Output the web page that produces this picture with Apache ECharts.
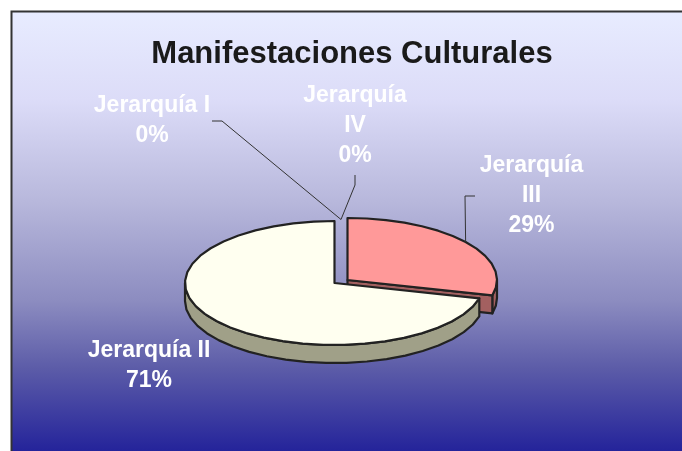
<!DOCTYPE html>
<html><head><meta charset="utf-8">
<style>html,body{margin:0;padding:0;background:#fff}#c{width:682px;height:451px}</style>
<script src="https://cdn.jsdelivr.net/npm/echarts@6/dist/echarts.min.js"></script>
</head><body><div id="c"></div>
<script>
// Clockwise from 12 o'clock, as the slices appear in the picture
const categories = ['Jerarquía IV', 'Jerarquía III', 'Jerarquía II', 'Jerarquía I'];
const values = [0, 29, 71, 0];
const titleText = 'Manifestaciones Culturales';

const FONT = '"Liberation Sans", Arial, sans-serif';
const pie = { cx: 334.5, cy: 283, rx: 149.5, ry: 62, depth: 18 };
const sliceStyle = {
  'Jerarquía III': { top: '#ff9999', side: '#a36060', ex: 13, ey: -3, order: 1 },
  'Jerarquía II': { top: '#fffff0', side: '#a0a088', ex: 0, ey: 0, order: 2 },
  'Jerarquía I': { top: 'none', side: 'none', ex: 6.5, ey: -1.5, order: 3 },
  'Jerarquía IV': { top: 'none', side: 'none', ex: 6.5, ey: -1.5, order: 3 }
};
const labelLayout = {
  'Jerarquía I': { x: 152, y: 121, wrap: false, leader: [[212, 121], [222, 121]] },
  'Jerarquía IV': { x: 355, y: 126, wrap: true, leader: [[355, 175], [355, 185]] },
  'Jerarquía III': { x: 531.5, y: 196, wrap: true, leader: [[475, 196], [465, 196]] },
  'Jerarquía II': { x: 149, y: 366, wrap: false, leader: [] }
};
const total = values.reduce((a, b) => a + b, 0);
const starts = values.map((_, i) => values.slice(0, i).reduce((a, b) => a + b, 0));
const EDGE = '#222222';

function pt(cx, cy, deg) {
  const t = deg * Math.PI / 180;
  return [cx + pie.rx * Math.sin(t), cy - pie.ry * Math.cos(t)];
}
function arc(cx, cy, a0, a1) {
  const out = [];
  const n = Math.max(1, Math.ceil((a1 - a0) / 8));
  for (let i = 0; i <= n; i++) out.push(pt(cx, cy, a0 + (a1 - a0) * i / n));
  return out;
}
function renderItem(params, api) {
  const name = categories[params.dataIndex];
  const value = api.value(0), start = api.value(1);
  const s = sliceStyle[name], l = labelLayout[name];
  const a0 = start / total * 360, a1 = (start + value) / total * 360;
  const cx = pie.cx + s.ex, cy = pie.cy + s.ey;
  const children = [];
  const base = s.order * 10;
  const stroke = { stroke: EDGE, lineWidth: 2.2, lineJoin: 'round' };
  if (value > 0) {
    // front wall of the rim
    const w0 = Math.max(a0, 90), w1 = Math.min(a1, 270);
    if (w1 > w0) {
      const top = arc(cx, cy, w0, w1);
      const bottom = arc(cx, cy + pie.depth, w0, w1).reverse();
      children.push({ type: 'polygon', z2: base, shape: { points: top.concat(bottom) },
        style: Object.assign({ fill: s.side }, stroke) });
    }
    // cut face looking towards the viewer
    if (a1 > 90 && a1 < 180) {
      const e = pt(cx, cy, a1);
      children.push({ type: 'polygon', z2: base + 1,
        shape: { points: [[cx, cy], e, [e[0], e[1] + pie.depth], [cx, cy + pie.depth]] },
        style: Object.assign({ fill: s.side }, stroke) });
    }
    children.push({ type: 'polygon', z2: base + 2,
      shape: { points: [[cx, cy]].concat(arc(cx, cy, a0, a1)) },
      style: Object.assign({ fill: s.top }, stroke) });
  }
  if (l.leader.length) {
    const anchor = pt(cx, cy, (a0 + a1) / 2);
    children.push({ type: 'polyline', z2: 90, shape: { points: l.leader.concat([anchor]) },
      style: { fill: 'none', stroke: '#333333', lineWidth: 1 } });
  }
  const pct = Math.round(value / total * 100) + '%';
  const label = (l.wrap ? name.replace(' ', '\n') : name) + '\n' + pct;
  children.push({ type: 'text', z2: 100, style: {
    text: label, x: l.x, y: l.y, align: 'center', verticalAlign: 'middle',
    fill: '#ffffff', font: 'bold 23px ' + FONT, lineHeight: 30 } });
  return { type: 'group', children };
}

const chart = echarts.init(document.getElementById('c'), null, { renderer: 'canvas' });
chart.setOption({
  animation: false,
  backgroundColor: '#ffffff',
  title: { text: titleText, left: 347, top: 34, textAlign: 'center',
    textStyle: { fontFamily: FONT, fontWeight: 'bold', fontSize: 31, color: '#1a1a1a' } },
  graphic: [{ type: 'rect', z: -1, silent: true,
    shape: { x: 11.5, y: 11.5, width: 700, height: 445 },
    style: { stroke: '#333333', lineWidth: 2, fill: { type: 'linear', x: 0, y: 0, x2: 0, y2: 1,
      colorStops: [
        { offset: 0, color: '#e8ecff' },
        { offset: 0.2, color: '#dcdcf8' },
        { offset: 0.425, color: '#b8b8dc' },
        { offset: 0.65, color: '#8c8cc0' },
        { offset: 0.8, color: '#5c5ca8' },
        { offset: 0.99, color: '#23229a' },
        { offset: 1, color: '#23229a' }] } } }],
  series: [{
    type: 'custom', coordinateSystem: 'none', silent: true, clip: false,
    renderItem,
    data: values.map((v, i) => [v, starts[i]])
  }]
});
</script></body></html>
